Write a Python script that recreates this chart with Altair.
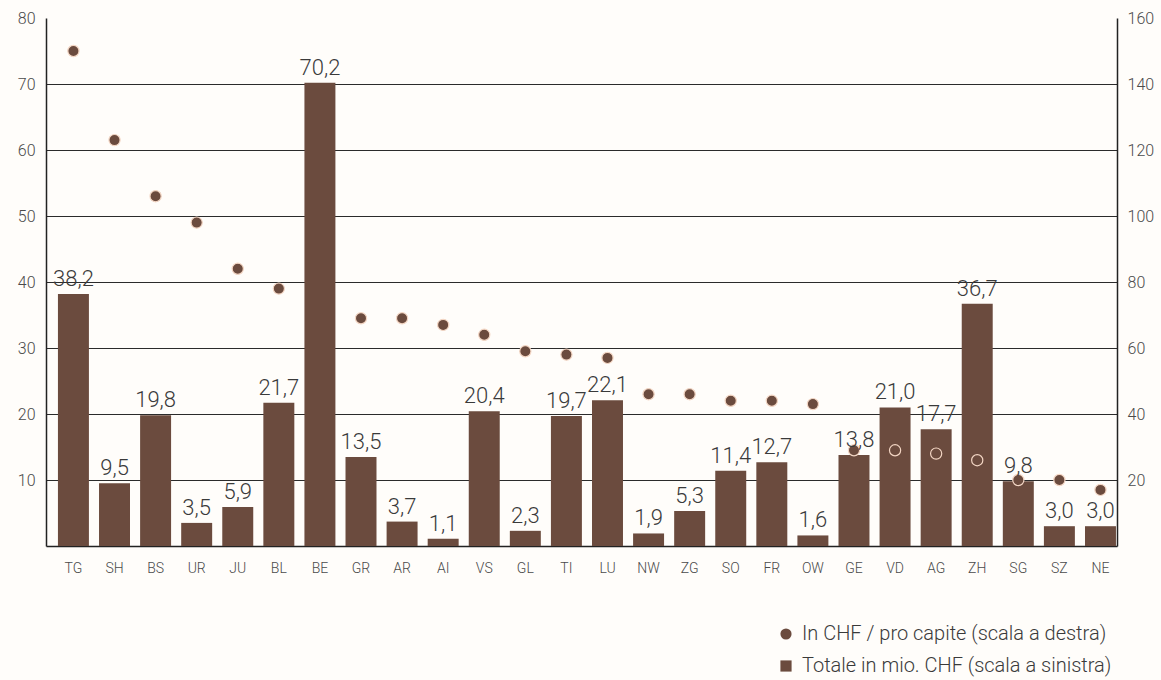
import altair as alt
import pandas as pd

# Cantons in display order
cantons = ["TG", "SH", "BS", "UR", "JU", "BL", "BE", "GR", "AR", "AI", "VS", "GL", "TI",
           "LU", "NW", "ZG", "SO", "FR", "OW", "GE", "VD", "AG", "ZH", "SG", "SZ", "NE"]

# Total amount, million CHF (left scale)
totale_mio = [38.2, 9.5, 19.8, 3.5, 5.9, 21.7, 70.2, 13.5, 3.7, 1.1, 20.4, 2.3, 19.7,
              22.1, 1.9, 5.3, 11.4, 12.7, 1.6, 13.8, 21.0, 17.7, 36.7, 9.8, 3.0, 3.0]

# CHF per inhabitant (right scale); BE has no value shown
pro_capite = [150, 123, 106, 98, 84, 78, None, 69, 69, 67, 64, 59, 58,
              57, 46, 46, 44, 44, 43, 29, 29, 28, 26, 20, 20, 17]

LBL_PC = "In CHF / pro capite (scala a destra)"
LBL_TOT = "Totale in mio. CHF (scala a sinistra)"

left_ticks = [10, 20, 30, 40, 50, 60, 70, 80]
right_ticks = [20, 40, 60, 80, 100, 120, 140, 160]

df = pd.DataFrame({"cantone": cantons, "totale": totale_mio, "pro_capite": pro_capite})
df["serie"] = LBL_PC

BROWN = "#6b4b3e"
FONT = "Roboto"
TEXT = "#3a3a3a"

x_enc = alt.X(
    "cantone:N", sort=cantons, title=None,
    scale=alt.Scale(paddingInner=0.246, paddingOuter=0.158, align=0.92),
    axis=alt.Axis(labelAngle=0, ticks=False, domain=True, domainColor="#222",
                  domainWidth=1.5, labelPadding=15, labelFontSize=14,
                  labelColor="#4a4a4a", labelFont=FONT, labelFontWeight=300),
)

base = alt.Chart(df).encode(x=x_enc)

bars = base.mark_bar(color=BROWN).encode(
    y=alt.Y("totale:Q", title=None, scale=alt.Scale(domain=[0, 80]),
            axis=alt.Axis(orient="left", values=left_ticks, ticks=False,
                          domainColor="#222", domainWidth=1.5, labelPadding=11,
                          labelFontSize=16, labelColor="#4a4a4a", labelFont=FONT,
                          labelFontWeight=300, grid=True, gridColor="#2b2b2b",
                          gridWidth=1.2,
                          gridOpacity={"condition": {"test": "datum.value >= 80", "value": 0},
                                       "value": 1}))
)

labels = base.transform_calculate(
    lbl="replace(format(datum.totale, '.1f'), '.', ',')"
).mark_text(baseline="bottom", dy=-3, font=FONT, fontSize=22, fontWeight=300,
            color=TEXT).encode(
    y=alt.Y("totale:Q", scale=alt.Scale(domain=[0, 80]), axis=None),
    text="lbl:N",
)

points = base.mark_point(filled=True, size=125, opacity=1, stroke="#f3d6c4",
                         strokeWidth=1.2).encode(
    y=alt.Y("pro_capite:Q", title=None, scale=alt.Scale(domain=[0, 160]),
            axis=alt.Axis(orient="right", values=right_ticks, ticks=False,
                          domainColor="#222", domainWidth=1.5, labelPadding=10,
                          labelFontSize=16, labelColor="#4a4a4a", labelFont=FONT,
                          labelFontWeight=300, grid=False)),
    color=alt.Color("serie:N", title=None,
                    scale=alt.Scale(domain=[LBL_PC, LBL_TOT], range=[BROWN, BROWN]),
                    legend=alt.Legend(orient="none", legendX=730, legendY=606,
                                      labelFont=FONT, labelFontSize=20,
                                      labelFontWeight=300, labelColor=TEXT,
                                      labelLimit=0,
                                      symbolSize=125, symbolStrokeWidth=0,
                                      rowPadding=12, labelOffset=6, padding=0)),
    shape=alt.Shape("serie:N", title=None,
                    scale=alt.Scale(domain=[LBL_PC, LBL_TOT], range=["circle", "square"]),
                    legend=None),
)

chart = alt.layer(bars, points, labels).resolve_scale(y="independent").properties(
    width=1071, height=528,
    autosize=alt.AutoSizeParams(type="none"),
    padding={"left": 46, "top": 18, "right": 44, "bottom": 134},
    background="#fffdfa",
).configure_view(stroke=None)

chart.save("out.html", embed_options={"renderer": "svg", "actions": False})
